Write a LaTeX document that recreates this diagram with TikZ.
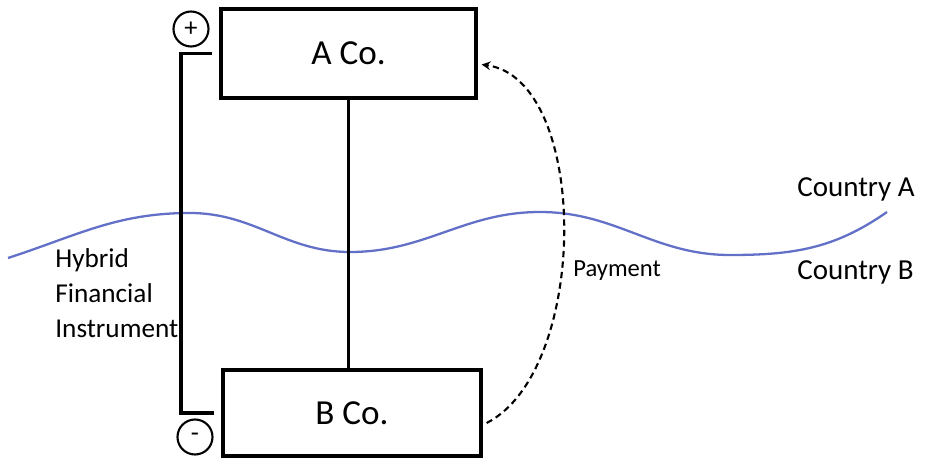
\documentclass[tikz,border=0pt]{standalone}
\usepackage{fontspec}
\setmainfont{Carlito}
\usepackage{tikz}
\definecolor{border}{RGB}{98,112,200}

\begin{document}
\begin{tikzpicture}[x=0.02cm,y=0.02cm,
		cobox/.style={draw,line width=1.9pt,inner sep=0pt,font=\fontsize{20}{24}\selectfont},
		sign/.style={draw,circle,line width=1.2pt,minimum size=0.7cm,inner sep=0pt,font=\fontsize{15}{16}\selectfont},
		link/.style={line width=1.5pt},
		bracket/.style={line width=2.2pt},
		payarrow/.style={-stealth,dashed,line width=1.2pt,dash pattern=on 3.6pt off 2.4pt},
		lbl/.style={anchor=base west,inner sep=0pt}]
			\useasboundingbox (0,0) rectangle (929,460);
			
			% draw border line between the countries
			\draw[border,line width=1.3pt] (8,202) to[out=18,in=180] (190,247) to[out=0,in=180] (350,208)
				to[out=0,in=180] (540,248) to[out=0,in=180] (730,205) to[out=0,in=215] (887,248);
			
			% draw companies
			\node[cobox,minimum width=5.1cm,minimum height=1.78cm] (A) at (348.5,406.5) {A Co.};
			\node[cobox,minimum width=5.16cm,minimum height=1.72cm] (B) at (352,47) {B Co.};
			\draw[link] (A.south) -- (A.south |- B.north);
			
			% draw hybrid instrument
			\draw[bracket] ([xshift=-0.14cm]A.west) -- ++(-31,0) |- ([xshift=-0.14cm]B.west);
			\node[sign] (plus) at (191,431) {+};
			\node[sign] (minus) at (195,23) {-};
			\node[anchor=west,inner sep=0pt,align=left,font=\fontsize{15.5}{19.9}\selectfont] (hfi) at (55,167) {Hybrid\\Financial\\Instrument};
			
			% draw payment
			\draw[payarrow] ([shift={(4,-10)}]B.east) .. controls (590,90) and (590,380) .. ([shift={(4,-11)}]A.east);
			\node[lbl,font=\fontsize{14}{16}\selectfont] (pay) at (573,183) {Payment};
			
			% draw countries
			\node[lbl,font=\fontsize{16.5}{19}\selectfont] (cA) at (797,263) {Country A};
			\node[lbl,font=\fontsize{16.5}{19}\selectfont] (cB) at (797,180) {Country B};
		\end{tikzpicture}
\end{document}
